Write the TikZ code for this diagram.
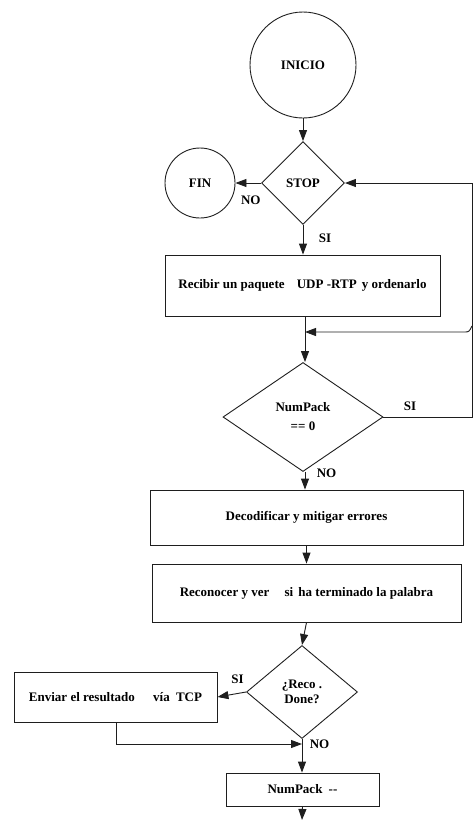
\documentclass[tikz,border=0pt]{standalone}
\usepackage{fontspec}
\setmainfont{Liberation Serif}
\usepackage{tikz}
\usetikzlibrary{arrows.meta,shapes.geometric}
\definecolor{lineblack}{HTML}{1E1E1E}

\begin{document}
\begin{tikzpicture}[x=1pt,y=-1pt,
  every node/.style={font=\fontsize{13}{15}\selectfont\bfseries},
  link/.style={draw=lineblack,line width=0.9pt},
  flow/.style={link,-{Triangle[length=11pt,width=8pt]}},
  startstop/.style={circle,draw=lineblack,line width=0.9pt,inner sep=0pt},
  procbox/.style={rectangle,draw=lineblack,line width=0.9pt,inner sep=0pt},
  decision/.style={diamond,draw=lineblack,line width=0.9pt,inner sep=0pt,align=center}]
  \useasboundingbox (0,0) rectangle (474,820);
  % start and first test
  \node[startstop,minimum size=106pt] (inicio) at (303,65) {INICIO};
  \node[decision,minimum width=83pt,minimum height=83pt] (stop) at (303,183) {STOP};
  \node[startstop,minimum size=70pt] (fin) at (200,183) {FIN};
  \node[procbox,minimum width=275pt,minimum height=61pt] (recibir) at (302.5,285.5)
    {Recibir un paquete\hspace{9pt} UDP -RTP\hspace{2pt} y ordenarlo};
  \node[decision,minimum width=160pt,minimum height=109pt] (numcero) at (303,417)
    {NumPack\\[4pt]== 0};
  % processing
  \node[procbox,minimum width=313pt,minimum height=55pt] (decod) at (306.5,517.5)
    {Decodificar y mitigar errores};
  \node[procbox,minimum width=309pt,minimum height=58pt] (recon) at (306.5,593)
    {Reconocer y ver\hspace{12pt} si\hspace{2pt} ha terminado la palabra};
  \node[decision,minimum width=111pt,minimum height=93pt] (done) at (302,692)
    {¿Reco .\\Done?};
  \node[procbox,minimum width=203pt,minimum height=50pt] (enviar) at (115.5,697)
    {Enviar el resultado\hspace{15pt} vía\hspace{3pt} TCP};
  \node[procbox,minimum width=153pt,minimum height=33pt] (decr) at (302.5,789.5)
    {NumPack\hspace{3pt} -{}-};
  % helper points
  \coordinate (retorno) at (305,332);
  \coordinate (salto) at (472,326);
  \coordinate (lado) at (472,417);
  \coordinate (junta) at (302,744);
  \coordinate (abajo) at (302,820);

  \draw[flow] (inicio) -- (stop);
  \draw[flow] (stop.west) -- (fin.east) node[pos=0.4,below=9pt] {NO};
  \draw[flow] (stop.south) -- (stop.south |- recibir.north) node[pos=0.45,right=12pt] {SI};
  \draw[flow] (recibir.south -| retorno) -- (numcero.north -| retorno);
  \draw[flow] (salto) .. controls (469,332) .. (464,332) -- (retorno);
  \draw[flow] (numcero.east) -- (lado) node[pos=0.3,above=3pt] {SI} |- (stop.east);
  \draw[flow] (numcero.south -| 305,0) -- (decod.north -| 305,0) node[pos=0.1,right=8pt] {NO};
  \draw[flow] (decod.south) -- (recon.north);
  \draw[flow] (recon.south) -- (done.north);
  \draw[flow] (done.west) -- (enviar.east) node[pos=0.3,above=6pt] {SI};
  \draw[flow] (enviar.south -| 116,0) |- (junta);
  \draw[flow] (done.south) -- (done.south |- decr.north) node[pos=0.15,right=4pt] {NO};
  \draw[flow] (decr.south) -- (abajo);
\end{tikzpicture}
\end{document}
